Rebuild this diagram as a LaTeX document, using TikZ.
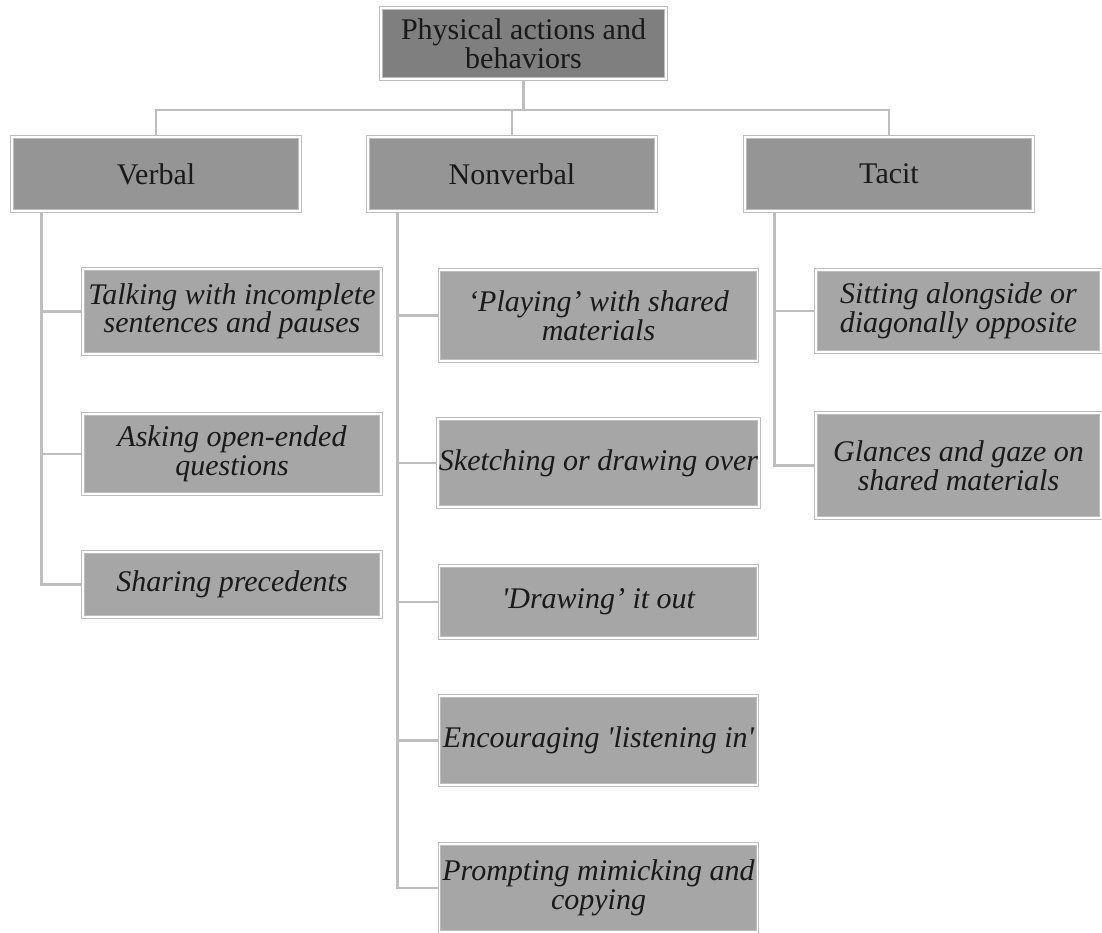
\documentclass[tikz,border=0pt]{standalone}
\usepackage{fontspec}
\setmainfont{Liberation Serif}
\usetikzlibrary{positioning, calc, backgrounds}
\definecolor{rootGray}{HTML}{7F7F7F}
\definecolor{headGray}{HTML}{959595}
\definecolor{leafGray}{HTML}{A6A6A6}
\definecolor{frameGray}{HTML}{BDBDBD}
\definecolor{linkGray}{HTML}{BEBEBE}
\tikzset{
  box/.style={draw=frameGray, double=white, double distance=1.8pt, line width=0.7pt,
    align=center, inner sep=1pt, text=black!90},
  rootbox/.style={box, fill=rootGray, minimum width=285pt, minimum height=71pt,
    font=\fontsize{30}{28.5}\selectfont},
  headbox/.style={box, fill=headGray, minimum width=288pt, minimum height=74pt,
    font=\fontsize{30}{28.5}\selectfont},
  leafbox/.style={box, fill=leafGray, font=\fontsize{30}{28.5}\selectfont\itshape},
  link/.style={draw=linkGray, line width=2.5pt},
}

\begin{document}
\begin{tikzpicture}[x=1pt, y=-1pt]
  \useasboundingbox (0,0) rectangle (1102,933);

  % Top and category row
  \node[rootbox] (root) at (523.5,43.5) {Physical actions and\\behaviors};
  \coordinate (bus) at (523.5,110);
  \node[headbox] (verbal) at (156,174) {Verbal};
  \node[headbox] (nonverbal) at (512,174) {Nonverbal};
  \node[headbox] (tacit) at (889,174) {Tacit};

  % Verbal
  \begin{scope}[every node/.append style={minimum width=298pt}]
    \node[leafbox, minimum height=85pt] (talking) at (232,311.5) {Talking with incomplete\\sentences and pauses};
    \node[leafbox, minimum height=80pt] (asking) at (232,454) {Asking open-ended\\questions};
    \node[leafbox, minimum height=65pt] (sharing) at (232,584.5) {Sharing precedents};
  \end{scope}

  % Nonverbal
  \begin{scope}[every node/.append style={minimum width=318pt}]
    \node[leafbox, minimum height=91pt] (playing) at (598.5,315.5) {‘Playing’ with shared\\materials};
    \node[leafbox, minimum height=88pt] (sketching) at (598.5,463) {Sketching or drawing over};
    \node[leafbox, minimum height=72pt] (drawing) at (598.5,602) {\textquotesingle Drawing’ it out};
    \node[leafbox, minimum height=89pt] (encouraging) at (598.5,740.5) {Encouraging \textquotesingle listening in\textquotesingle};
    \node[leafbox, minimum height=88pt] (prompting) at (598.5,888) {Prompting mimicking and\\copying};
  \end{scope}

  % Tacit
  \begin{scope}[every node/.append style={minimum width=285pt}]
    \node[leafbox, minimum height=82pt] (sitting) at (958.5,311) {Sitting alongside or\\diagonally opposite};
    \node[leafbox, minimum height=105pt] (glances) at (958.5,465.5) {Glances and gaze on\\shared materials};
  \end{scope}

  % Connectors
  \begin{scope}[on background layer]
    \draw[link] (root.south) -- (bus);
    \draw[link] (verbal.north) |- (bus) -| (tacit.north);
    \draw[link] (nonverbal.north) -- (nonverbal.north |- bus);
    \foreach \leaf in {talking, asking, sharing}
      \draw[link] ([xshift=30pt]verbal.south west) |- (\leaf.west);
    \foreach \leaf in {playing, sketching, drawing, encouraging, prompting}
      \draw[link] ([xshift=30pt]nonverbal.south west) |- (\leaf.west);
    \foreach \leaf in {sitting, glances}
      \draw[link] ([xshift=30pt]tacit.south west) |- (\leaf.west);
  \end{scope}
\end{tikzpicture}
\end{document}
